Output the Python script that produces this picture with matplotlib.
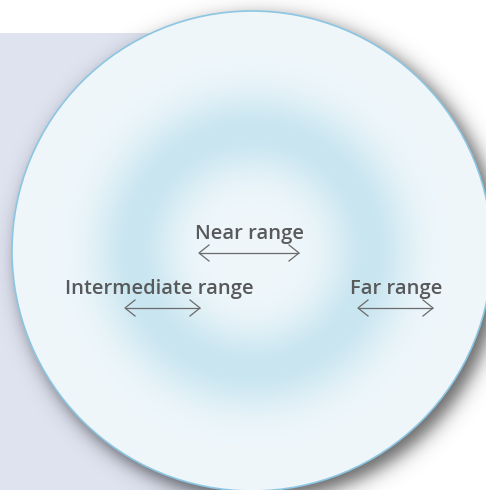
import numpy as np
import matplotlib
matplotlib.use("Agg")
import matplotlib.pyplot as plt
from matplotlib.patches import Circle, Rectangle

# labels and where their double arrows sit (pixel space of the 486x490 canvas)
labels = ["Near range", "Intermediate range", "Far range"]
label_x = [249, 159, 396]
label_y = [239, 294, 294]
arrow_left = [199, 125, 358]
arrow_right = [299, 200, 433]
arrow_y = [253, 308, 308]

W, H = 486, 490
cx, cy, r = 252, 251, 240

fig = plt.figure(figsize=(W / 100, H / 100), dpi=100)
ax = fig.add_axes([0, 0, 1, 1])
ax.set_xlim(0, W)
ax.set_ylim(H, 0)
ax.axis("off")

# lavender panel behind the disc
ax.add_patch(Rectangle((0, 33), 262, H, facecolor="#dfe3f0", edgecolor="none", zorder=0))

# soft drop shadow, offset down-right
yy, xx = np.mgrid[0:H, 0:W] + 0.5
d = np.hypot(xx - (cx + 7), yy - (cy + 8)) - (r + 1)
shadow = np.zeros((H, W, 4))
shadow[..., 3] = 0.6 / (1 + np.exp(d / 5.5))
ax.imshow(shadow, extent=(0, W, H, 0), zorder=1, interpolation="bilinear")

# radial blue ring gradient inside the disc
rho = np.hypot(xx - cx, yy - cy)
t = np.exp(-((rho - 118) / 40) ** 2)
edge = np.array([0xef, 0xf7, 0xfb]) / 255
ring = np.array([0xc8, 0xe5, 0xf0]) / 255
grad = edge + t[..., None] * (ring - edge)
im = ax.imshow(grad, extent=(0, W, H, 0), zorder=2, interpolation="bilinear")
disc = Circle((cx, cy), r, transform=ax.transData)
im.set_clip_path(disc)
ax.add_patch(Circle((cx, cy), r, facecolor="none", edgecolor="#8cc6e2", lw=1.2, zorder=3))

grey = "#58595b"
for lab, tx, ty, x0, x1, ay in zip(labels, label_x, label_y, arrow_left, arrow_right, arrow_y):
    ax.text(tx, ty, lab, ha="center", va="baseline", fontsize=14.5,
            fontweight="semibold", family="Open Sans", color=grey, zorder=5)
    ax.plot([x0, x1], [ay, ay], color="#6b6b6b", lw=0.9, zorder=5, solid_capstyle="butt")
    for tip, sgn in ((x0, 1), (x1, -1)):
        ax.plot([tip + sgn * 10, tip, tip + sgn * 10], [ay - 8, ay, ay + 8],
                color="#6b6b6b", lw=0.9, zorder=5)

fig.savefig("out.png", dpi=100)
